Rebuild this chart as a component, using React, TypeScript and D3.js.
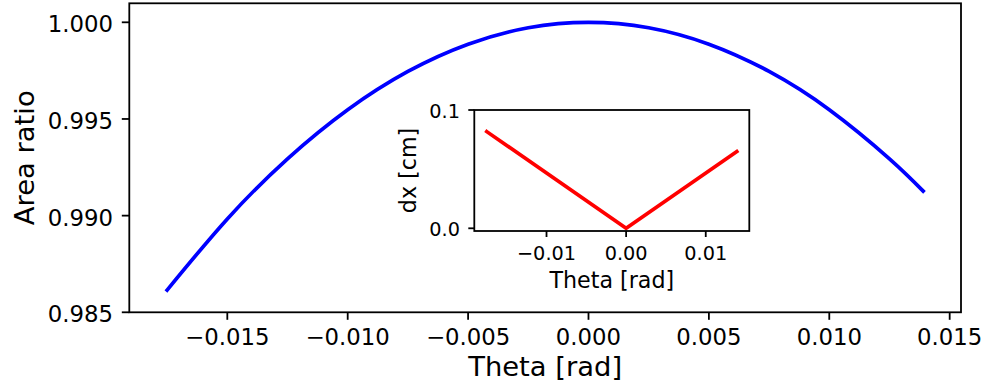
import React from "react";
import * as d3 from "d3";

// Tilt angle samples and the resulting area ratio (main panel)
const thetaMain = [
  -0.0175, -0.015, -0.0125, -0.01, -0.0075, -0.005, -0.0025, 0.0, 0.0025, 0.005,
  0.0075, 0.01, 0.0125, 0.0139,
];
const areaRatio = [
  0.98615, 0.98983, 0.99294, 0.99548, 0.99746, 0.99887, 0.99972, 1.0, 0.99972,
  0.99887, 0.99746, 0.99548, 0.99294, 0.99127,
];

// Displacement vs tilt (inset)
const thetaInset = [-0.0175, 0.0, 0.0139];
const dxInset = [0.0817, 0.0, 0.0648];

// Tick values
const mainXTicks = [-0.015, -0.01, -0.005, 0.0, 0.005, 0.01, 0.015];
const mainYTicks = [0.985, 0.99, 0.995, 1.0];
const insetXTicks = [-0.01, 0.0, 0.01];
const insetYTicks = [0.0, 0.1];

const W = 987;
const H = 389;
const FONT = "'DejaVu Sans', sans-serif";

const fmt = (v: number, digits: number) => {
  const s = Math.abs(v).toFixed(digits);
  return v < -1e-12 ? "\u2212" + s : s;
};

export default function App() {
  // Main axes frame
  const m = { left: 129.3, right: 961, top: 3.3, bottom: 312.3 };
  const xDomain: [number, number] = [-0.01907, 0.01547];
  const x = d3.scaleLinear().domain(xDomain).range([m.left, m.right]);
  const y = d3.scaleLinear().domain([0.985, 1.000983]).range([m.bottom, m.top]);

  // Inset axes frame
  const n = { left: 474.3, right: 749.3, top: 110, bottom: 231 };
  const xi = d3.scaleLinear().domain(xDomain).range([n.left, n.right]);
  const yi = d3.scaleLinear().domain([-0.00228, 0.1]).range([n.bottom, n.top]);

  const mainLine = d3
    .line<number>()
    .x((_, i) => x(thetaMain[i]))
    .y((d) => y(d))
    .curve(d3.curveNatural)(areaRatio) as string;

  const insetLine = d3
    .line<number>()
    .x((_, i) => xi(thetaInset[i]))
    .y((d) => yi(d))(dxInset) as string;

  const spine = "#000";

  return (
    <svg
      width={W}
      height={H}
      style={{ position: "absolute", left: 0, top: 0, background: "#fff" }}
      fontFamily={FONT}
    >
      <rect x={0} y={0} width={W} height={H} fill="#fff" />

      {/* Main panel */}
      <g>
        <defs>
          <clipPath id="mainClip">
            <rect x={m.left} y={m.top} width={m.right - m.left} height={m.bottom - m.top} />
          </clipPath>
        </defs>
        <path
          d={mainLine}
          fill="none"
          stroke="#0000ff"
          strokeWidth={3.7}
          strokeLinecap="square"
          clipPath="url(#mainClip)"
        />
        <rect
          x={m.left}
          y={m.top}
          width={m.right - m.left}
          height={m.bottom - m.top}
          fill="none"
          stroke={spine}
          strokeWidth={1.8}
        />
        {mainXTicks.map((t) => (
          <g key={"mx" + t}>
            <line x1={x(t)} x2={x(t)} y1={m.bottom} y2={m.bottom + 7.5} stroke={spine} strokeWidth={1.8} />
            <text x={x(t)} y={345} textAnchor="middle" fontSize={22.8} fill="#000">
              {fmt(t, 3)}
            </text>
          </g>
        ))}
        {mainYTicks.map((t) => (
          <g key={"my" + t}>
            <line x1={m.left - 7.5} x2={m.left} y1={y(t)} y2={y(t)} stroke={spine} strokeWidth={1.8} />
            <text x={113} y={y(t) + 10} textAnchor="end" fontSize={22.8} fill="#000">
              {fmt(t, 3)}
            </text>
          </g>
        ))}
        <text x={(m.left + m.right) / 2} y={376} textAnchor="middle" fontSize={27.4} fill="#000">
          Theta [rad]
        </text>
        <text
          transform={`translate(33.5, ${(m.top + m.bottom) / 2}) rotate(-90)`}
          textAnchor="middle"
          fontSize={27.4}
          fill="#000"
        >
          Area ratio
        </text>
      </g>

      {/* Inset panel */}
      <g>
        <rect
          x={n.left}
          y={n.top}
          width={n.right - n.left}
          height={n.bottom - n.top}
          fill="#fff"
        />
        <path d={insetLine} fill="none" stroke="#ff0000" strokeWidth={3.7} strokeLinecap="square" />
        <rect
          x={n.left}
          y={n.top}
          width={n.right - n.left}
          height={n.bottom - n.top}
          fill="none"
          stroke={spine}
          strokeWidth={1.8}
        />
        {insetXTicks.map((t) => (
          <g key={"ix" + t}>
            <line x1={xi(t)} x2={xi(t)} y1={n.bottom} y2={n.bottom + 6} stroke={spine} strokeWidth={1.8} />
            <text x={xi(t)} y={259.5} textAnchor="middle" fontSize={19.3} fill="#000">
              {fmt(t, 2)}
            </text>
          </g>
        ))}
        {insetYTicks.map((t) => (
          <g key={"iy" + t}>
            <line x1={n.left - 6} x2={n.left} y1={yi(t)} y2={yi(t)} stroke={spine} strokeWidth={1.8} />
            <text x={460} y={yi(t) + 7.5} textAnchor="end" fontSize={19.3} fill="#000">
              {fmt(t, 1)}
            </text>
          </g>
        ))}
        <text x={(n.left + n.right) / 2} y={288} textAnchor="middle" fontSize={22.2} fill="#000">
          Theta [rad]
        </text>
        <text
          transform={`translate(416, ${(n.top + n.bottom) / 2}) rotate(-90)`}
          textAnchor="middle"
          fontSize={22.2}
          fill="#000"
        >
          dx [cm]
        </text>
      </g>
    </svg>
  );
}
